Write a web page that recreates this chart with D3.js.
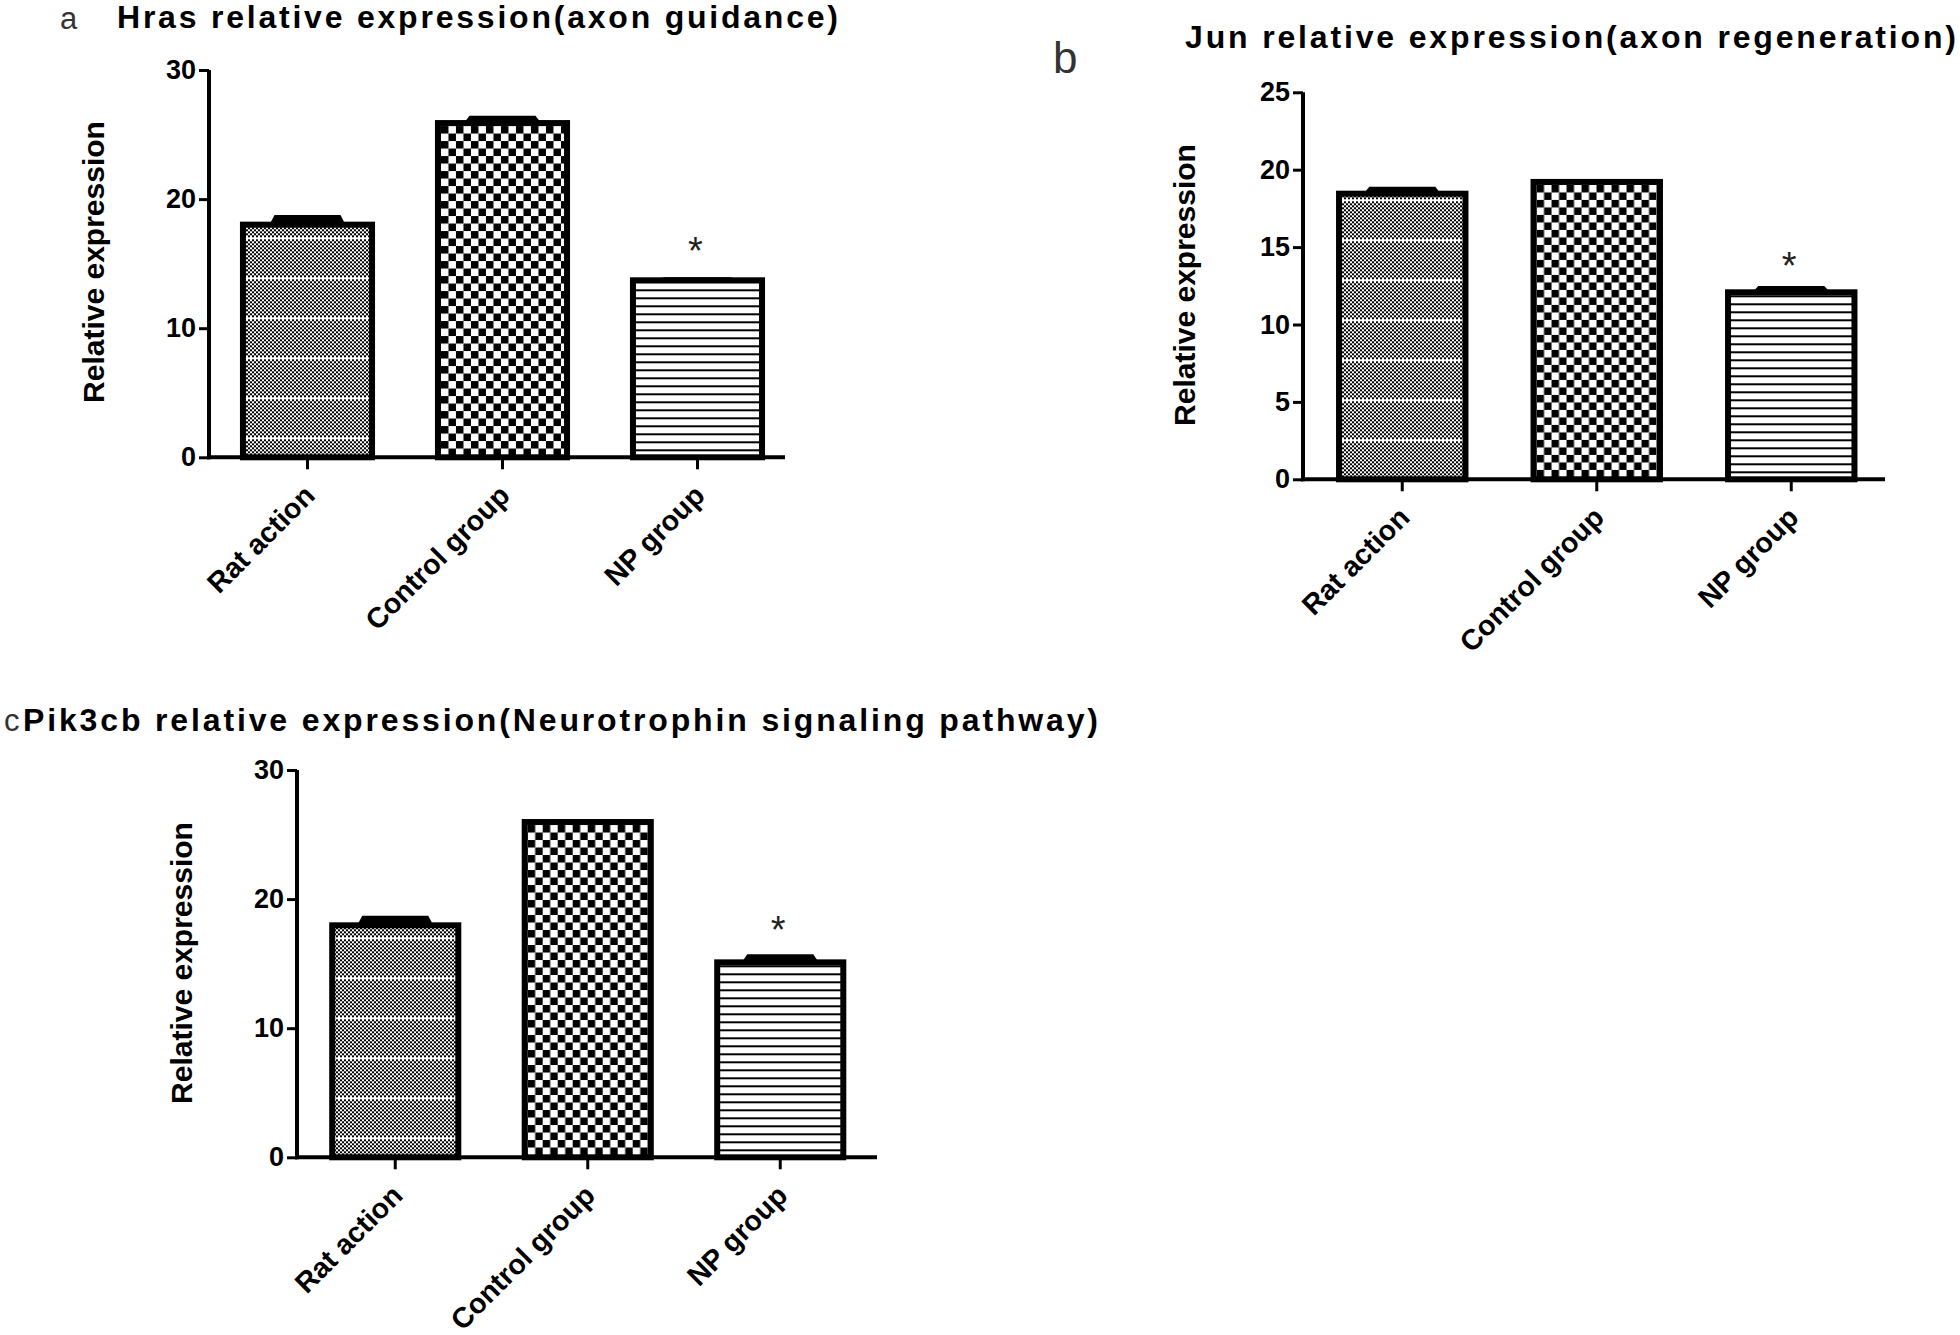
<!DOCTYPE html>
<html><head><meta charset="utf-8">
<script src="https://cdn.jsdelivr.net/npm/d3@7"></script>
<style>body{margin:0;background:#fff}</style>
</head><body><svg id="c" width="1960" height="1335"></svg>
<script>
// ---------- data ----------
const categories = ["Rat action", "Control group", "NP group"];
const hrasMean = [18.02, 25.89, 13.71];
const hrasErr = [0.55, 0.38, 0.05];
const junMean = [18.45, 19.21, 12.08];
const junErr = [0.29, 0.03, 0.25];
const pik3cbMean = [17.97, 25.97, 15.10];
const pik3cbErr = [0.55, 0.03, 0.43];
const significance = ["", "", "*"];
const ticks30 = [0, 10, 20, 30];
const ticks25 = [0, 5, 10, 15, 20, 25];
const panelLetters = ["a", "b", "c"];
const titles = [
  "Hras relative expression(axon guidance)",
  "Jun relative expression(axon regeneration)",
  "Pik3cb relative expression(Neurotrophin signaling pathway)"
];
const yTitle = "Relative expression";

// ---------- layout ----------
const layouts = [
  {mean: hrasMean, err: hrasErr, ticks: ticks30, max: 30, ax: 209, y0: 457.3, yTop: 70, xr: [210, 795], pi: 0.338, axEnd: 785,
   title: {x: 117, y: 28, len: 721}, letter: {x: 60, y: 29, size: 31}, ytl: {x: 104, y: 262}, stripeOff: 19, starOff: 34},
  {mean: junMean, err: junErr, ticks: ticks25, max: 25, ax: 1303, y0: 479.3, yTop: 92.3, xr: [1305, 1888.5], pi: 0.35, axEnd: 1885,
   title: {x: 1185, y: 48, len: 771}, letter: {x: 1053, y: 73, size: 44}, ytl: {x: 1195, y: 285}, stripeOff: 39, starOff: 28},
  {mean: pik3cbMean, err: pik3cbErr, ticks: ticks30, max: 30, ax: 297, y0: 1157.3, yTop: 770, xr: [299, 876.5], pi: 0.345, axEnd: 877,
   title: {x: 23, y: 731, len: 1075}, letter: {x: 4, y: 731, size: 31}, ytl: {x: 192, y: 963}, stripeOff: 19, starOff: 32}
];

const FONT = "'Liberation Sans', Arial, sans-serif";
const svg = d3.select("#c");
const defs = svg.append("defs");

layouts.forEach((L, p) => {
  const y = d3.scaleLinear().domain([0, L.max]).range([L.y0, L.yTop]);
  const x = d3.scaleBand().domain(categories).range(L.xr).paddingInner(L.pi).paddingOuter(L.pi / 2);
  const bw = x.bandwidth();

  // patterns
  const fine = defs.append("pattern").attr("id", "fine" + p)
    .attr("patternUnits", "userSpaceOnUse").attr("width", 4).attr("height", 40)
    .attr("patternTransform", `translate(0,${L.y0 - L.stripeOff - 39})`);
  fine.append("rect").attr("width", 4).attr("height", 40).attr("fill", "#fff");
  for (let r = 0; r < 19; r++) {
    fine.append("rect").attr("x", (r % 2) * 2).attr("y", r * 2).attr("width", 2).attr("height", 2).attr("fill", "#000");
  }
  const cLeft = x(categories[1]), cTop = y(L.mean[1]);
  const coarse = defs.append("pattern").attr("id", "coarse" + p)
    .attr("patternUnits", "userSpaceOnUse").attr("width", 15).attr("height", 15)
    .attr("patternTransform", `translate(${cLeft + 3},${cTop + 3})`);
  coarse.append("rect").attr("width", 15).attr("height", 15).attr("fill", "#fff");
  coarse.append("rect").attr("x", 0).attr("y", 0).attr("width", 7.5).attr("height", 7.5).attr("fill", "#000");
  coarse.append("rect").attr("x", 7.5).attr("y", 7.5).attr("width", 7.5).attr("height", 7.5).attr("fill", "#000");
  const lines = defs.append("pattern").attr("id", "lines" + p)
    .attr("patternUnits", "userSpaceOnUse").attr("width", 8).attr("height", 8)
    .attr("patternTransform", `translate(0,${L.y0 - 8})`);
  lines.append("rect").attr("width", 8).attr("height", 8).attr("fill", "#fff");
  lines.append("rect").attr("y", 0).attr("width", 8).attr("height", 2).attr("fill", "#000");
  const fills = ["fine" + p, "coarse" + p, "lines" + p];

  const g = svg.append("g");

  // bars
  g.selectAll("rect.bar").data(categories).join("rect").attr("class", "bar")
    .attr("x", d => x(d)).attr("y", (d, i) => y(L.mean[i]))
    .attr("width", bw).attr("height", (d, i) => y(0) - y(L.mean[i]))
    .attr("fill", (d, i) => `url(#${fills[i]})`)
    .attr("stroke", "#000").attr("stroke-width", 6);

  // error bars (SEM) drawn as thick caps
  const capW = 66;
  g.selectAll("path.err").data(categories).join("path").attr("class", "err")
    .attr("d", (d, i) => {
      const cx = x(d) + bw / 2;
      const yb = y(L.mean[i]) - 2;
      const yt = y(L.mean[i] + L.err[i]) - 2.5;
      return `M${cx - capW / 2 - 4},${yb} L${cx - capW / 2},${yt} L${cx + capW / 2},${yt} L${cx + capW / 2 + 4},${yb} Z`;
    })
    .attr("fill", "#000");

  // significance stars
  g.selectAll("text.star").data(categories).join("text").attr("class", "star")
    .attr("x", d => x(d) + bw / 2 - 2)
    .attr("y", (d, i) => y(L.mean[i] + L.err[i]) - L.starOff + 22 - 3.5)
    .attr("text-anchor", "middle").attr("font-family", FONT).attr("font-size", 38)
    .attr("fill", "#222")
    .text((d, i) => significance[i]);

  // y axis
  const yAxis = g.append("g").attr("transform", `translate(${L.ax},0)`)
    .call(d3.axisLeft(y).tickValues(L.ticks).tickSize(10).tickSizeOuter(0).tickPadding(3));
  yAxis.select(".domain").attr("stroke-width", 4).attr("d", `M0,${L.y0 + 2}V${L.yTop}`);
  yAxis.selectAll(".tick line").attr("stroke-width", 3);
  yAxis.selectAll(".tick text").attr("font-family", FONT).attr("font-weight", "bold")
    .attr("font-size", 27).attr("fill", "#000");

  // x axis
  const xAxis = g.append("g").attr("transform", `translate(0,${L.y0})`)
    .call(d3.axisBottom(x).tickSize(12).tickSizeOuter(0));
  xAxis.select(".domain").attr("stroke-width", 4).attr("d", `M${L.ax - 2},0H${L.axEnd}`);
  xAxis.selectAll(".tick line").attr("stroke-width", 3);
  xAxis.selectAll(".tick text")
    .attr("x", 0).attr("y", 0).attr("dy", 0)
    .attr("transform", "translate(9,40) rotate(-45)")
    .attr("text-anchor", "end")
    .attr("font-family", FONT).attr("font-weight", "bold").attr("font-size", 28.5).attr("fill", "#000");

  // y title
  g.append("text").attr("transform", `translate(${L.ytl.x},${L.ytl.y}) rotate(-90)`)
    .attr("text-anchor", "middle").attr("font-family", FONT).attr("font-weight", "bold")
    .attr("font-size", 30).attr("fill", "#000").text(yTitle);

  // panel title
  g.append("text").attr("x", L.title.x).attr("y", L.title.y)
    .attr("font-family", FONT).attr("font-weight", "bold").attr("font-size", 32)
    .attr("textLength", L.title.len).attr("lengthAdjust", "spacing")
    .attr("fill", "#000").text(titles[p]);

  // panel letter
  g.append("text").attr("x", L.letter.x).attr("y", L.letter.y)
    .attr("font-family", FONT)
    .attr("font-size", L.letter.size).attr("fill", "#333").text(panelLetters[p]);
});
</script>
</body></html>
